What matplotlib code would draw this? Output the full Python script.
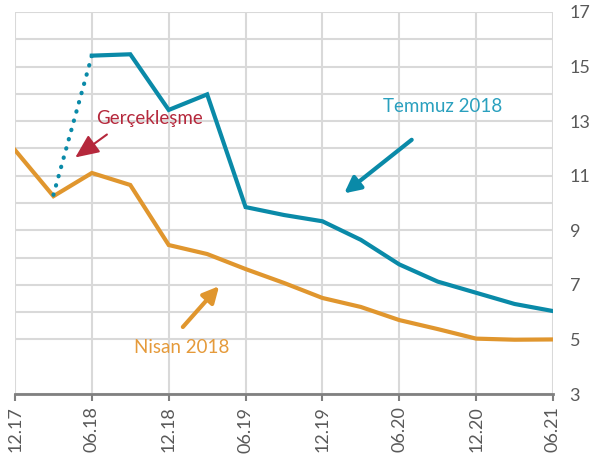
import matplotlib.pyplot as plt

# veriler (çeyreklik, 12.17 - 06.21)
quarters = list(range(15))
tick_labels = ['12.17', '06.18', '12.18', '06.19', '12.19', '06.20', '12.20', '06.21']
nisan_2018 = [11.94, 10.25, 11.1, 10.66, 8.46, 8.13, 7.58, 7.07, 6.52, 6.19, 5.71, 5.38, 5.03, 4.99, 5.0]
temmuz_2018 = [15.4, 15.45, 13.41, 13.98, 9.85, 9.56, 9.33, 8.65, 7.75, 7.12, 6.71, 6.3, 6.04]
temmuz_x = quarters[2:]
gerceklesme_x = [1, 2]
gerceklesme = [10.3, 15.4]

TEAL = '#0a8aa8'
ORANGE = '#e0962e'
RED = '#b5283c'
GRID = '#d9d9d9'

plt.rcParams['font.family'] = ['Lato', 'DejaVu Sans']

fig = plt.figure(figsize=(5.96, 4.61), dpi=100)
ax = fig.add_axes([0.0252, 0.1453, 0.9026, 0.8287])

ax.plot(quarters, nisan_2018, color=ORANGE, lw=3, solid_joinstyle='miter', zorder=3)
ax.plot(temmuz_x, temmuz_2018, color=TEAL, lw=3, solid_joinstyle='miter', zorder=3)
ax.plot(gerceklesme_x, gerceklesme, color=TEAL, lw=3, linestyle=(0, (0.1, 2.2)),
        dash_capstyle='round', zorder=3)

ax.set_xlim(0, 14)
ax.set_ylim(3, 17)
ax.set_xticks(range(0, 15, 2))
ax.set_xticklabels(tick_labels, rotation=90, fontsize=13, color='#595959')
ax.set_yticks(range(3, 18, 2))
ax.set_yticks(range(6, 17, 2), minor=True)
ax.yaxis.tick_right()
ax.tick_params(axis='y', which='both', length=0, pad=12, labelsize=13, labelcolor='#595959')
ax.tick_params(axis='x', length=5, width=1.5, color='#808080', pad=4)

ax.grid(True, which='both', color=GRID, lw=1.5, zorder=0)
ax.set_axisbelow(True)
for s in ['top', 'right', 'left']:
    ax.spines[s].set_visible(False)
ax.spines['bottom'].set_color('#808080')
ax.spines['bottom'].set_linewidth(2)

# açıklamalar
ax.annotate('', xy=(1.51, 11.61), xytext=(2.45, 12.57),
            arrowprops=dict(arrowstyle='-|>,head_length=0.45,head_width=0.2',
                            color=RED, lw=1.5, mutation_scale=32))
ax.text(3.51, 13.08, 'Gerçekleşme', color=RED, fontsize=13.5, ha='center', va='center')

ax.annotate('', xy=(8.51, 10.29), xytext=(10.38, 12.38),
            arrowprops=dict(arrowstyle='-|>', color=TEAL, lw=3, mutation_scale=24))
ax.text(11.14, 13.52, 'Temmuz 2018', color='#2aa0be', fontsize=13.5, ha='center', va='center')

ax.annotate('', xy=(5.36, 7.03), xytext=(4.32, 5.38),
            arrowprops=dict(arrowstyle='-|>', color=ORANGE, lw=3, mutation_scale=24))
ax.text(4.35, 4.72, 'Nisan 2018', color='#e59a3a', fontsize=13.5, ha='center', va='center')

fig.savefig('out.png', dpi=100)
